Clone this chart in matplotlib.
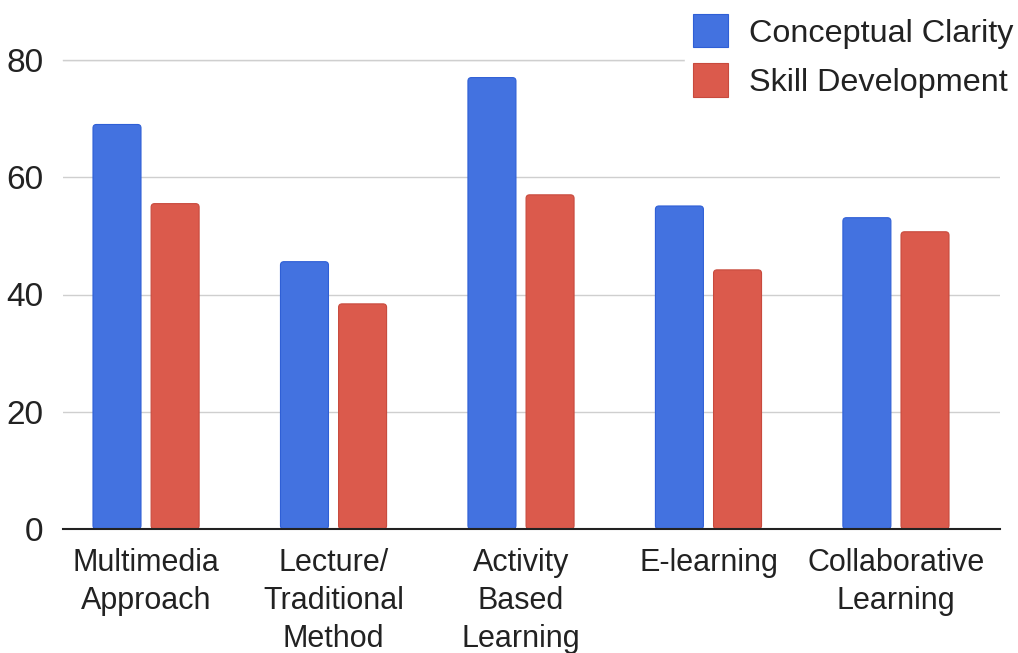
import matplotlib
matplotlib.use("Agg")
import matplotlib.pyplot as plt
from matplotlib.patches import FancyBboxPatch
import numpy as np

categories = ["Multimedia\nApproach", "Lecture/\nTraditional\nMethod",
              "Activity\nBased\nLearning", "E-learning", "Collaborative\nLearning"]
conceptual_clarity = [69, 45.6, 77, 55.1, 53.1]
skill_development = [55.5, 38.4, 57, 44.2, 50.7]
y_ticks = [0, 20, 40, 60, 80]

plt.rcParams["font.family"] = ["Liberation Sans", "DejaVu Sans"]

fig = plt.figure(figsize=(10.18, 6.53), dpi=100)
W, H = 1018, 653
ax = fig.add_axes([63 / W, 1 - 529 / H, (1000 - 63) / W, (529 - 60) / H])

x = np.arange(len(categories))
bw = 0.256
off = 0.155
blue, blue_edge = "#4372e0", "#2f5fd6"
red, red_edge = "#db5a4c", "#c84a3d"

ax.set_xlim(-0.443, 4.555)
ax.set_ylim(0, 80)

bars_cc = ax.bar(x - off, conceptual_clarity, bw, color=blue, edgecolor=blue_edge,
                 linewidth=0.8, label="Conceptual Clarity", zorder=3)
bars_sd = ax.bar(x + off, skill_development, bw, color=red, edgecolor=red_edge,
                 linewidth=0.8, label="Skill Development", zorder=3)

# soften bar corners: swap each rectangle for a rounded box of the same extent
px_per_x = (1000 - 63) / (4.555 + 0.443)
px_per_y = (529 - 60) / 80.0
radius_px = 3.5
for container in (bars_cc, bars_sd):
    for rect in container.patches:
        rb = FancyBboxPatch((rect.get_x(), rect.get_y()), rect.get_width(), rect.get_height(),
                            boxstyle=f"round,pad=0,rounding_size={radius_px / px_per_x}",
                            mutation_aspect=px_per_x / px_per_y,
                            facecolor=rect.get_facecolor(), edgecolor=rect.get_edgecolor(),
                            linewidth=0.8, zorder=3)
        ax.add_patch(rb)
        rect.set_visible(False)

ax.set_yticks(y_ticks)
ax.yaxis.grid(True, color="#cfcfcf", linewidth=1.0, zorder=0)
ax.set_axisbelow(True)
for s in ["top", "right", "left"]:
    ax.spines[s].set_visible(False)
ax.spines["bottom"].set_color("#222222")
ax.spines["bottom"].set_linewidth(1.5)
ax.spines["bottom"].set_zorder(4)

ax.set_xticks(x)
ax.set_xticklabels(categories, fontsize=22, color="#222222", linespacing=1.33)
ax.tick_params(axis="x", length=0, pad=14)
ax.tick_params(axis="y", length=0, pad=14, labelsize=24, labelcolor="#222222")

ax.axhline(80, color="#cfcfcf", linewidth=1.0, zorder=0, clip_on=False)

leg = fig.legend(handles=[bars_cc, bars_sd], loc="upper right",
                 bbox_to_anchor=(1038 / W, 1 + 10 / H),
                 fontsize=23.3, frameon=True, facecolor="white", edgecolor="white",
                 framealpha=1.0, handlelength=1.1, handleheight=1.2,
                 handletextpad=0.65, labelspacing=0.45, borderpad=0.25,
                 labelcolor="#222222")
leg.set_zorder(10)
for p in leg.get_patches():
    p.set_visible(True)
    p.set_linewidth(0.8)

fig.savefig("out.png", dpi=100, facecolor="white")
